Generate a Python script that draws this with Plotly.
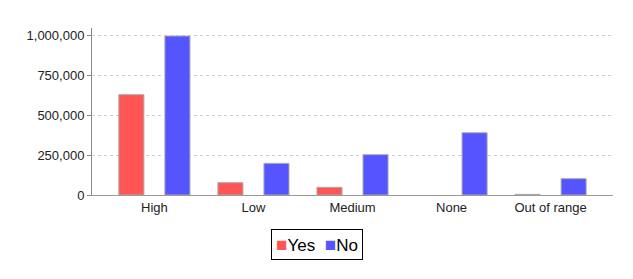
import plotly.graph_objects as go

categories = ["High", "Low", "Medium", "None", "Out of range"]
yes_values = [627000, 77000, 48000, None, 4000]
no_values = [994000, 198000, 252000, 389000, 102000]
y_ticks = [0, 250000, 500000, 750000, 1000000]
series_names = ["Yes", "No"]
series_colors = ["#FF5555", "#5555FF"]

fig = go.Figure()
for name, vals, col in zip(series_names, [yes_values, no_values], series_colors):
    fig.add_trace(go.Bar(x=categories, y=vals, name=name,
                         marker=dict(color=col, line=dict(color="#AAAAAA", width=1))))

legend_text = "  ".join(
    f'<span style="color:{c};font-size:19px">■</span>{n}' for n, c in zip(series_names, series_colors)
)

fig.add_annotation(
    text=legend_text, xref="paper", yref="paper", x=0.432, y=-0.204,
    xanchor="center", yanchor="top", showarrow=False,
    font=dict(size=17, color="#000000"),
    bordercolor="#000000", borderwidth=1, borderpad=4, bgcolor="white",
)

fig.update_layout(
    width=633, height=279,
    margin=dict(l=92, r=20, t=28, b=84),
    paper_bgcolor="white", plot_bgcolor="white",
    barmode="group", bargap=0.07, bargroupgap=0.456,
    font=dict(family="Liberation Sans, Arial, sans-serif", size=13, color="#222222"),
    showlegend=False,
)
fig.update_xaxes(range=[-0.63, 4.63], showgrid=False, showline=True, linecolor="#999999",
                 linewidth=1, ticks="", zeroline=False, fixedrange=True)
fig.update_yaxes(range=[0, 1044000], tickvals=y_ticks, tickformat=",d",
                 showgrid=True, gridcolor="#D0D0D0", griddash="3px,3px", gridwidth=1,
                 showline=True, linecolor="#888888", linewidth=1,
                 ticks="outside", ticklen=4, tickcolor="#888888", zeroline=False)

fig.write_html("out.html")
